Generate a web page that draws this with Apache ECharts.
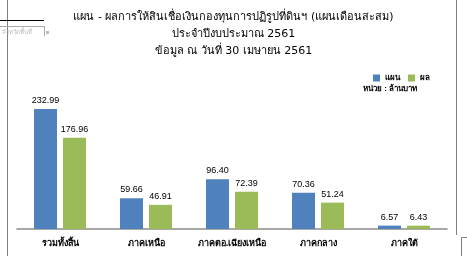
<!DOCTYPE html>
<html>
<head>
<meta charset="utf-8">
<script src="https://cdn.jsdelivr.net/npm/echarts@6/dist/echarts.min.js"></script>
<style>html,body{margin:0;padding:0;background:#fff;}#c{width:467px;height:256px;}</style>
</head>
<body>
<div id="c"></div>
<script>
const categories = ['รวมทั้งสิ้น', 'ภาคเหนือ', 'ภาคตอ.เฉียงเหนือ', 'ภาคกลาง', 'ภาคใต้'];
const planValues = [232.99, 59.66, 96.40, 70.36, 6.57];
const resultValues = [176.96, 46.91, 72.39, 51.24, 6.43];
const seriesNames = ['แผน', 'ผล'];
const titleLines = ['แผน - ผลการให้สินเชื่อเงินกองทุนการปฏิรูปที่ดินฯ (แผนเดือนสะสม)', 'ประจำปีงบประมาณ 2561', 'ข้อมูล ณ วันที่ 30 เมษายน 2561'];
const unitText = 'หน่วย : ล้านบาท';

const chart = echarts.init(document.getElementById('c'), null, {renderer: 'canvas'});
const labelStyle = {
  show: true, position: 'top', distance: 4,
  fontFamily: 'Liberation Sans, Arial, sans-serif', fontSize: 9, color: '#000',
  formatter: p => p.value.toFixed(2)
};
chart.setOption({
  animation: false,
  backgroundColor: '#fff',
  title: {
    text: titleLines.join('\n'),
    left: 'center', top: 4,
    textStyle: {fontSize: 11, fontWeight: 'normal', color: '#000', lineHeight: 17, fontFamily: 'Tahoma, DejaVu Sans, sans-serif'}
  },
  legend: {
    data: seriesNames, left: 368, top: 69,
    icon: 'rect', itemWidth: 7, itemHeight: 7, itemGap: 8,
    textStyle: {fontSize: 8, color: '#000', fontWeight: 'bold'}
  },
  grid: {left: 17, right: 20, top: 100.25, bottom: 27},
  xAxis: {
    type: 'category', data: categories,
    axisLine: {lineStyle: {color: '#8c8c8c', width: 1.5}},
    axisTick: {show: false},
    axisLabel: {color: '#000', fontSize: 9, fontWeight: 'bold', margin: 10, interval: 0}
  },
  yAxis: {type: 'value', min: 0, max: 250, show: false, splitLine: {show: false}},
  series: [
    {name: seriesNames[0], type: 'bar', data: planValues, barWidth: 23, barGap: '26%', itemStyle: {color: '#4F81BD'}, label: labelStyle},
    {name: seriesNames[1], type: 'bar', data: resultValues, barWidth: 23, itemStyle: {color: '#9BBB59'}, label: labelStyle}
  ],
  graphic: [
    {type: 'line', shape: {x1: 7.5, y1: 0, x2: 7.5, y2: 256}, style: {stroke: '#7f7f7f', lineWidth: 1}},
    {type: 'line', shape: {x1: 456.5, y1: 0, x2: 456.5, y2: 235}, style: {stroke: '#7f7f7f', lineWidth: 1}},
    {type: 'line', shape: {x1: 0, y1: 20.5, x2: 44, y2: 20.5}, style: {stroke: '#000', lineWidth: 1}},
    {type: 'line', shape: {x1: 0, y1: 26.5, x2: 44, y2: 26.5}, style: {stroke: '#aaa', lineWidth: 1}},
    {type: 'line', shape: {x1: 44.5, y1: 26, x2: 44.5, y2: 36}, style: {stroke: '#aaa', lineWidth: 1}},
    {type: 'rect', shape: {x: 46, y: 31, width: 3, height: 3}, style: {fill: '#bbb'}},
    {type: 'text', left: 2, top: 29, style: {text: 'จังหวัดพื้นที่', fontSize: 6, fill: '#bbb'}},
    {type: 'rect', shape: {x: 461.5, y: 237.5, width: 10, height: 30}, style: {fill: 'none', stroke: '#7f7f7f', lineWidth: 1}},
    {type: 'text', left: 363, top: 85, style: {text: unitText, fontSize: 8, fontWeight: 'bold', fill: '#000'}}
  ]
});
</script>
</body>
</html>
